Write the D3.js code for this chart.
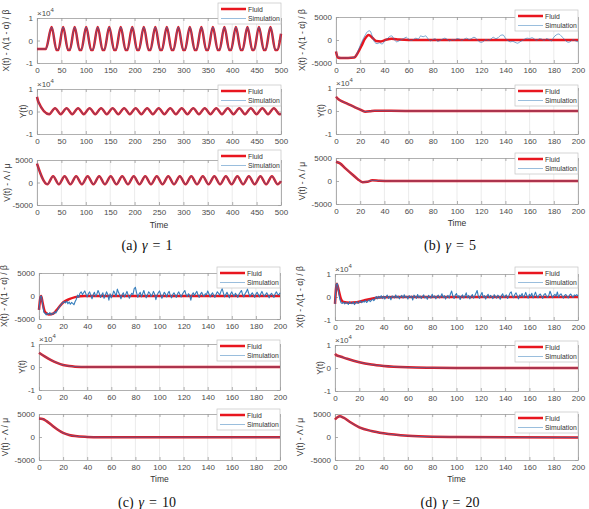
<!DOCTYPE html>
<html><head><meta charset="utf-8">
<script src="https://cdn.jsdelivr.net/npm/d3@7"></script>
<style>body{margin:0;background:#fff} svg{display:block}</style>
</head><body>
<svg id="chart" width="589" height="509"></svg>
<script>
// ---------------- tick labels ----------------
const xTicks500 = [0, 50, 100, 150, 200, 250, 300, 350, 400, 450, 500];
const xTicks200 = [0, 20, 40, 60, 80, 100, 120, 140, 160, 180, 200];
const yTicksE4 = [-10000, 0, 10000];      // shown as -1, 0, 1 with ×10^4
const yTicks5000 = [-5000, 0, 5000];
const yLabels = ["X(t) - Λ(1 - α) / β", "Y(t)", "V(t) - Λ / μ"];
const legendNames = ["Fluid", "Simulation"];
const captions = [["(a)", "1"], ["(b)", "5"], ["(c)", "10"], ["(d)", "20"]];

// ---------------- panel (a) gamma = 1 ----------------
const tA_X = [0, 18,
  30, 40, 43.6, 53.6, 63.6, 67.2, 77.2, 87.2, 90.8, 100.8, 110.8, 114.4, 124.4, 134.4, 138,
  148, 158, 161.6, 171.6, 181.6, 185.2, 195.2, 205.2, 208.8, 218.8, 228.8, 232.4, 242.4, 252.4, 256,
  266, 276, 279.6, 289.6, 299.6, 303.2, 313.2, 323.2, 326.8, 336.8, 346.8, 350.4, 360.4, 370.4, 374,
  384, 394, 397.6, 407.6, 417.6, 421.2, 431.2, 441.2, 444.8, 454.8, 464.8, 468.4, 478.4, 488.4, 492,
  500];
const fluidA_X = [-3800, -3800,
  6000, -4200, -4200, 6000, -4200, -4200, 6000, -4200, -4200, 6000, -4200, -4200, 6000, -4200, -4200,
  6000, -4200, -4200, 6000, -4200, -4200, 6000, -4200, -4200, 6000, -4200, -4200, 6000, -4200, -4200,
  6000, -4200, -4200, 6000, -4200, -4200, 6000, -4200, -4200, 6000, -4200, -4200, 6000, -4200, -4200,
  6000, -4200, -4200, 6000, -4200, -4200, 6000, -4200, -4200, 6000, -4200, -4200, 6000, -4200, -4200,
  3000];
const tA_Y = [0, 3, 25, 37, 48.6, 60.6, 72.2, 84.2, 95.8, 107.8, 119.4, 131.4, 143, 155, 166.6, 178.6,
  190.2, 202.2, 213.8, 225.8, 237.4, 249.4, 261, 273, 284.6, 296.6, 308.2, 320.2, 331.8, 343.8, 355.4,
  367.4, 379, 391, 402.6, 414.6, 426.2, 438.2, 449.8, 461.8, 473.4, 485.4, 497, 500];
const fluidA_Y = [6500, 4200, -1200, 1500, -1200, 1500, -1200, 1500, -1200, 1500, -1200, 1500, -1200, 1500, -1200, 1500,
  -1200, 1500, -1200, 1500, -1200, 1500, -1200, 1500, -1200, 1500, -1200, 1500, -1200, 1500, -1200,
  1500, -1200, 1500, -1200, 1500, -1200, 1500, -1200, 1500, -1200, 1500, -1200, -1150];
const tA_V = [0, 21.2, 33, 44.8, 56.6, 68.4, 80.2, 92, 103.8, 115.6, 127.4, 139.2, 151, 162.8, 174.6, 186.4,
  198.2, 210, 221.8, 233.6, 245.4, 257.2, 269, 280.8, 292.6, 304.4, 316.2, 328, 339.8, 351.6, 363.4,
  375.2, 387, 398.8, 410.6, 422.4, 434.2, 446, 457.8, 469.6, 481.4, 493.2, 500];
const fluidA_V = [4200, -400, 1400, -400, 1400, -400, 1400, -400, 1400, -400, 1400, -400, 1400, -400, 1400, -400,
  1400, -400, 1400, -400, 1400, -400, 1400, -400, 1400, -400, 1400, -400, 1400, -400, 1400,
  -400, 1400, -400, 1400, -400, 1400, -400, 1400, -400, 1400, -400, 300];

// ---------------- panel (b) gamma = 5 ----------------
const tB_X = [0, 1.5, 4, 10, 15, 18, 21, 24, 27, 30, 33, 37, 42, 46, 52, 60, 200];
const fluidB_X = [-2500, -3800, -3900, -3900, -3800, -2800, -1300, 300, 1100, 500, -200, -300, 100, 250, 100, 0, 0];
const simB_X = [ // every 2 time units
  -2500, -3800, -3900, -3900, -3900, -3900, -3850, -3800, -3600, -2500,
  -1200, 0, 1000, 1800, 2000, 800, -500, -800, -600, -900,
  -300, 200, 700, 900, 200, -400, -200, 100, 300, 600,
  200, -100, 100, 400, 200, 900, 700, 900, 300, -200,
  100, 300, -300, -100, 200, 400, 100, -200, 100, 0,
  300, 200, -100, 200, 400, 100, 300, 600, 300, -300,
  -500, -300, 100, -100, 200, 600, 300, 500, 1000, 1100,
  400, -100, -400, -300, -500, -700, -400, -100, 200, 400,
  300, 500, 200, -100, 300, 200, -100, 300, 100, -200,
  600, 1100, 1300, 900, 400, -200, -500, -300, 100, -200,
  -400];
const tB_Y = [0, 2, 5, 10, 15, 20, 24, 28, 32, 40, 60, 200];
const fluidB_Y = [6200, 5100, 4200, 3000, 1800, 600, -300, -150, 150, 100, 0, 0];
const tB_V = [0, 3, 8, 14, 18, 22, 26, 30, 36, 45, 200];
const fluidB_V = [4200, 3900, 2700, 1300, 400, -250, -150, 150, 50, 0, 0];

// ---------------- panel (c) gamma = 10 ----------------
const tC_X = [0, 1, 1.8, 3, 5, 8, 12, 16, 20, 25, 30, 38, 200];
const fluidC_X = [-3000, -600, 0, -1500, -3500, -4000, -3800, -2600, -1400, -700, -250, 0, 0];
const simC_X = [ // every time unit
  -3000, -200, 0, -1800, -3500, -3800, -4100, -3700, -4000, -3600,
  -4100, -3800, -3900, -3400, -3700, -3200, -2800, -2300, -2000, -1600,
  -1400, -1200, -1500, -1100, -1700, -1300, -1800, -1400, -1600, -1900,
  -1200, -700, 200, -300, 600, 900, 300, 700, 1100, 400,
  -200, 500, 900, 200, -600, 300, 800, -100, 400, 1200,
  600, -300, 200, 700, -500, 100, 900, 400, -900, 500,
  -400, 200, 1100, 600, -100, 1500, 800, 200, -600, 300,
  700, -200, 400, 1000, 200, -500, 100, 600, 300, 1600,
  1900, 700, -300, 400, 800, -200, 500, 1200, 300, -400,
  200, 900, 600, -100, 300, 1000, 400, -800, 200, 700,
  1100, 300, -500, 200, 800, 400, -200, 600, 1000, 100,
  -400, 300, 700, 200, -300, 500, 900, 300, -200, 400,
  800, 1200, 300, -100, 500, 200, -900, 300, 700, 100,
  600, 1000, 200, -300, 400, 800, 200, -100, 500, 300,
  1100, 500, -200, 300, 700, 100, -300, 400, 900, 600,
  200, 1000, 1600, 700, -200, 300, 800, 200, -400, 500,
  900, 300, -100, 600, 200, -300, 400, 800, 1200, 300,
  -200, 500, 900, 1500, 600, -100, 300, 700, 200, -300,
  400, 800, 300, -200, 500, 1000, 400, -100, 300, 700,
  200, -400, 300, 600, 100, -300, 500, 900, 400, 200,
  700];
const tC_Y = [0, 5, 10, 15, 20, 25, 30, 40, 200];
const fluidC_Y = [6200, 4500, 3000, 1800, 900, 400, 150, 0, 0];
const tC_V = [0, 3, 6, 10, 15, 20, 25, 30, 40, 50, 200];
const fluidC_V = [4000, 3900, 3500, 2700, 1700, 900, 450, 200, 20, -50, -50];

// ---------------- panel (d) gamma = 20 ----------------
const tD_X = [0, 1.5, 3, 5, 7, 12, 18, 25, 32, 40, 50, 200];
const fluidD_X = [-3000, 5800, 3000, -1000, -2200, -2500, -2300, -1300, -500, -100, 0, 0];
const simD_X = [ // every time unit
  -3000, 5500, 5800, 2000, -1000, -2500, -2800, -2200, -3000, -2400,
  -2600, -3200, -2100, -2700, -2900, -2200, -3300, -2500, -2000, -2800,
  -2300, -1700, -2500, -1900, -2200, -1500, -2400, -1800, -1200, -2000,
  -1500, -900, -1600, -600, 200, -800, 300, -500, 600, -700,
  400, -900, 200, 800, -600, 300, -1200, 500, 100, -400,
  900, -300, 400, -800, 200, 700, -500, 1000, -200, 300,
  -900, 600, -100, 400, -1300, 800, 200, -600, 1100, -300,
  500, -700, 300, 900, -400, 200, -1000, 700, 100, -500,
  1200, -200, 500, -800, 300, 800, -400, 100, 1400, -300,
  600, -900, 200, 700, -500, 1300, 2600, 400, -700, 800,
  1500, -200, 600, -1100, 300, 900, -400, 500, 1800, -300,
  700, -800, 200, 1100, -500, 400, 1600, 2800, 300, -600,
  900, 2000, -200, 600, -900, 400, 1200, -300, 700, 100,
  -700, 1000, 300, -500, 800, 200, -1000, 600, 1400, -200,
  500, 900, -600, 300, 1700, 2200, 400, -300, 1100, 1800,
  600, -800, 900, 300, 1500, -200, 700, 2000, 400, -500,
  1200, 300, 1600, -400, 800, 2100, 500, -300, 900, 1300,
  200, -600, 1000, 1500, 400, -200, 800, 2500, 1100, -300,
  600, 1200, 300, 2200, -100, 900, 1400, 400, -500, 700,
  1100, 200, -400, 800, 1300, 500, -200, 900, 600, 1000,
  400];
const tD_Y = [0, 1, 5, 10, 20, 30, 40, 60, 80, 100, 200];
const fluidD_Y = [6100, 5600, 4900, 4000, 2500, 1500, 900, 300, 100, 0, 0];
const tD_V = [0, 2, 4, 7, 12, 20, 30, 40, 60, 80, 100, 200];
const fluidD_V = [3800, 4300, 4500, 4200, 3300, 2100, 1300, 800, 250, 50, 0, -100];

const t200by2 = d3.range(0, 201, 2);
const t200by1 = d3.range(0, 201, 1);

// ---------------- layout / style ----------------
const FONT = "'Liberation Sans', Arial, Helvetica, sans-serif";
const RED = "#e8161f", BLUE = "#2a76b8";
const svg = d3.select("#chart");

function drawSub(o) {
  const x = d3.scaleLinear().domain([0, o.xmax]).range([o.left, o.right]);
  const y = d3.scaleLinear().domain([o.yticks[0], o.yticks[2]]).range([o.top + o.h, o.top]);
  const g = svg.append("g");
  g.append("g").selectAll("line").data(o.xticks).join("line")
    .attr("x1", d => x(d)).attr("x2", d => x(d))
    .attr("y1", o.top).attr("y2", o.top + o.h)
    .attr("stroke", "#e2e2e2").attr("stroke-width", 0.7);
  const fmtY = v => o.exp ? String(v / 10000) : String(v);
  const gb = g.append("g").attr("transform", `translate(0,${o.top + o.h})`)
    .call(d3.axisBottom(x).tickValues(o.xticks).tickSizeInner(-3).tickSizeOuter(0).tickPadding(4).tickFormat(d => String(d)));
  const gt = g.append("g").attr("transform", `translate(0,${o.top})`)
    .call(d3.axisTop(x).tickValues(o.xticks).tickSizeInner(-3).tickSizeOuter(0).tickFormat(""));
  const gl = g.append("g").attr("transform", `translate(${o.left},0)`)
    .call(d3.axisLeft(y).tickValues(o.yticks).tickSizeInner(-3).tickSizeOuter(0).tickPadding(4).tickFormat(fmtY));
  const gr = g.append("g").attr("transform", `translate(${o.right},0)`)
    .call(d3.axisRight(y).tickValues(o.yticks).tickSizeInner(-3).tickSizeOuter(0).tickFormat(""));
  [gb, gt, gl, gr].forEach(a => {
    a.attr("font-family", FONT).attr("font-size", 8);
    a.selectAll(".domain, .tick line").attr("stroke", "#9c9c9c").attr("stroke-width", 0.8);
    a.selectAll("text").attr("fill", "#4a4a4a");
  });
  const smooth = d3.line().x(d => x(d[0])).y(d => y(d[1])).curve(d3.curveMonotoneX);
  const sharp = d3.line().x(d => x(d[0])).y(d => y(d[1]));
  g.append("path").datum(d3.zip(o.fT, o.fV)).attr("d", smooth)
    .attr("fill", "none").attr("stroke", RED).attr("stroke-width", 2.5).attr("stroke-linejoin", "round");
  g.append("path").datum(d3.zip(o.sT, o.sV)).attr("d", o.noisy ? sharp : smooth)
    .attr("fill", "none").attr("stroke", BLUE).attr("stroke-width", o.noisy ? 1.1 : 0.9)
    .attr("stroke-opacity", o.noisy ? 0.95 : 0.7).attr("stroke-linejoin", "round");
  if (o.exp) {
    const t = g.append("text").attr("x", o.left).attr("y", o.top - 2.5)
      .attr("font-family", FONT).attr("font-size", 8).attr("fill", "#4a4a4a");
    t.append("tspan").text("×10");
    t.append("tspan").attr("dy", -3.5).attr("font-size", 6).text("4");
  }
  g.append("text").attr("transform", `translate(${o.ylx},${o.top + o.h / 2}) rotate(-90)`)
    .attr("text-anchor", "middle").attr("font-family", FONT).attr("font-size", 8.5).attr("fill", "#333")
    .text(o.ylabel);
  if (o.timeY) {
    g.append("text").attr("x", (o.left + o.right) / 2).attr("y", o.timeY)
      .attr("text-anchor", "middle").attr("font-family", FONT).attr("font-size", 8.5).attr("fill", "#333").text("Time");
  }
  const lw = 63, lh = 21, lx = o.right - lw, ly = o.legTop;
  const lg = g.append("g");
  lg.append("rect").attr("x", lx).attr("y", ly).attr("width", lw).attr("height", lh)
    .attr("fill", "#fff").attr("stroke", "#c4c4c4").attr("stroke-width", 0.7);
  lg.append("line").attr("x1", lx + 3).attr("x2", lx + 28).attr("y1", ly + 6).attr("y2", ly + 6)
    .attr("stroke", RED).attr("stroke-width", 2.5);
  lg.append("line").attr("x1", lx + 3).attr("x2", lx + 28).attr("y1", ly + 15.5).attr("y2", ly + 15.5)
    .attr("stroke", BLUE).attr("stroke-width", 0.8).attr("stroke-opacity", 0.6);
  lg.append("text").attr("x", lx + 30).attr("y", ly + 8.5).attr("font-family", FONT).attr("font-size", 6.8).attr("fill", "#333").text(legendNames[0]);
  lg.append("text").attr("x", lx + 30).attr("y", ly + 18).attr("font-family", FONT).attr("font-size", 6.8).attr("fill", "#333").text(legendNames[1]);
}

const panels = [
  { left: 37, right: 281, tops: [18, 89, 160], h: 45, xmax: 500, xticks: xTicks500, timeY: 228,
    ylx: [9, 26, 10], legTops: [3, 85, 150], cap: [147, 250],
    yt: [yTicksE4, yTicksE4, yTicks5000], noisy: [false, false, false],
    fluid: [[tA_X, fluidA_X], [tA_Y, fluidA_Y], [tA_V, fluidA_V]],
    sim: [[tA_X, fluidA_X], [tA_Y, fluidA_Y], [tA_V, fluidA_V]] },
  { left: 336, right: 578, tops: [17, 88, 158], h: 46, xmax: 200, xticks: xTicks200, timeY: 226,
    ylx: [305, 324, 305], legTops: [10, 85, 153], cap: [450, 250],
    yt: [yTicks5000, yTicksE4, yTicks5000], noisy: [false, false, false],
    fluid: [[tB_X, fluidB_X], [tB_Y, fluidB_Y], [tB_V, fluidB_V]],
    sim: [[t200by2, simB_X], [tB_Y, fluidB_Y], [tB_V, fluidB_V]] },
  { left: 39, right: 280, tops: [273, 344, 414], h: 46, xmax: 200, xticks: xTicks200, timeY: 482,
    ylx: [7, 25, 8], legTops: [267, 340, 409], cap: [147, 507],
    yt: [yTicks5000, yTicksE4, yTicks5000], noisy: [true, false, false],
    fluid: [[tC_X, fluidC_X], [tC_Y, fluidC_Y], [tC_V, fluidC_V]],
    sim: [[t200by1, simC_X], [tC_Y, fluidC_Y], [tC_V, fluidC_V]] },
  { left: 335, right: 578, tops: [274, 345, 414], h: 46, xmax: 200, xticks: xTicks200, timeY: 482,
    ylx: [303, 323, 303], legTops: [267, 341, 412], cap: [450, 507],
    yt: [yTicksE4, yTicksE4, yTicks5000], noisy: [true, false, false],
    fluid: [[tD_X, fluidD_X], [tD_Y, fluidD_Y], [tD_V, fluidD_V]],
    sim: [[t200by1, simD_X], [tD_Y, fluidD_Y], [tD_V, fluidD_V]] }
];

panels.forEach((p, pi) => {
  for (let i = 0; i < 3; i++) {
    drawSub({
      left: p.left, right: p.right, top: p.tops[i], h: (pi === 0 ? 45 : p.h), xmax: p.xmax, xticks: p.xticks,
      yticks: p.yt[i], exp: p.yt[i] === yTicksE4, ylabel: yLabels[i], ylx: p.ylx[i],
      legTop: p.legTops[i], timeY: i === 2 ? p.timeY : null, noisy: p.noisy[i],
      fT: p.fluid[i][0], fV: p.fluid[i][1], sT: p.sim[i][0], sV: p.sim[i][1]
    });
  }
  const c = svg.append("text").attr("x", p.cap[0]).attr("y", p.cap[1]).attr("text-anchor", "middle")
    .attr("font-family", "'Liberation Serif', 'DejaVu Serif', serif").attr("font-size", 14).attr("fill", "#111");
  c.append("tspan").text(captions[pi][0]);
  c.append("tspan").attr("dx", 5).attr("font-style", "italic").text("γ");
  c.append("tspan").attr("dx", 5).text("=");
  c.append("tspan").attr("dx", 5).text(captions[pi][1]);
});
</script>
</body></html>
